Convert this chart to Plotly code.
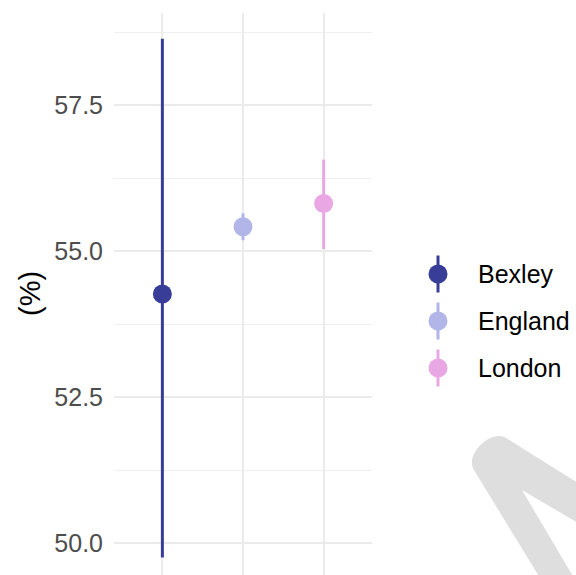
import plotly.graph_objects as go

# Estimates with 95% confidence intervals, by area
areas = ["Bexley", "England", "London"]
values = [54.27, 55.42, 55.82]
lower = [49.76, 55.19, 55.04]
upper = [58.64, 55.65, 56.57]
colors = ["#383D98", "#B1B5E8", "#E9A8E4"]

y_ticks = [50.0, 52.5, 55.0, 57.5]

W, H = 576, 575
ML, MR, MT, MB = 114, 0, 13, 0
PW, PH = W - ML - MR, H - MT - MB


def px_to_paper(px, py):
    return (px - ML) / PW, (H - MB - py) / PH


fig = go.Figure()

# main panel: point estimates with interval bars
for name, v, lo, hi, c in zip(areas, values, lower, upper, colors):
    fig.add_trace(go.Scatter(
        x=[name], y=[v], mode="markers",
        marker=dict(size=19, color=c),
        error_y=dict(type="data", symmetric=False,
                     array=[hi - v], arrayminus=[v - lo],
                     color=c, thickness=3, width=0),
        showlegend=False, xaxis="x", yaxis="y",
        hoverinfo="skip",
    ))

# legend key: glyph (dot with bar) plus label for each area
leg_x, leg_text_x, leg_y0, leg_dy, leg_half = 438, 476, 274, 47, 18.5
for i, (name, c) in enumerate(zip(areas, colors)):
    yy = leg_y0 + i * leg_dy
    fig.add_trace(go.Scatter(
        x=[leg_x], y=[yy], mode="markers",
        marker=dict(size=19, color=c),
        error_y=dict(type="constant", value=leg_half, color=c,
                     thickness=3, width=0),
        showlegend=False, xaxis="x2", yaxis="y2", hoverinfo="skip",
    ))
    fig.add_annotation(x=leg_text_x, y=yy, xref="x2", yref="y2",
                       text=name, showarrow=False, xanchor="left",
                       yanchor="middle",
                       font=dict(size=25, color="black"))

# y-axis title
tx, ty = px_to_paper(30, 294)
fig.add_annotation(x=tx, y=0.5, xref="paper", yref="paper", text="(%)",
                   textangle=-90, showarrow=False, xanchor="center",
                   yanchor="middle", font=dict(size=29, color="black"))

# grey watermark stroke in the lower right corner
pts = [("M", [(540, 578)]), ("L", [(474, 470)]),
       ("C", [(464.5, 454.7), (490.7, 428.5), (506, 438)]),
       ("L", [(578, 483)]), ("L", [(578, 523)]), ("L", [(522, 490)]),
       ("L", [(574, 578)])]
path = ""
for cmd, coords in pts:
    path += cmd + " " + " ".join(
        "{:.4f},{:.4f}".format(*px_to_paper(a, b)) for a, b in coords) + " "
path += "Z"
fig.add_shape(type="path", path=path, xref="paper", yref="paper",
              fillcolor="#DEDEDE", line=dict(width=0), layer="above")

fig.update_layout(
    width=W, height=H,
    margin=dict(l=ML, r=MR, t=MT, b=MB, pad=0),
    paper_bgcolor="white", plot_bgcolor="white",
    font=dict(family="Liberation Sans, Arial, sans-serif", size=25,
              color="#4D4D4D"),
    xaxis=dict(domain=[0, 258 / PW], type="category",
               categoryorder="array", categoryarray=areas,
               range=[-0.6, 2.6], showticklabels=False, ticks="",
               showgrid=True, gridcolor="#EBEBEB", gridwidth=2,
               zeroline=False, showline=False, anchor="y"),
    yaxis=dict(range=[49.46, 59.08], tickvals=y_ticks,
               ticktext=["{:.1f}".format(t) for t in y_ticks],
               ticks="", ticklabelstandoff=10,
               tickfont=dict(size=25, color="#4D4D4D"),
               showgrid=True, gridcolor="#EBEBEB", gridwidth=2,
               minor=dict(tickvals=[51.25, 53.75, 56.25, 58.75],
                          showgrid=True, gridcolor="#EFEFEF", gridwidth=1,
                          ticks=""),
               zeroline=False, showline=False, anchor="x"),
    xaxis2=dict(domain=[(420 - ML) / PW, 1], range=[420, 576],
                visible=False, anchor="y2", fixedrange=True),
    yaxis2=dict(domain=[0, 1], range=[H - MB, MT], visible=False,
                anchor="x2", fixedrange=True),
)

fig.write_html("out.html")
